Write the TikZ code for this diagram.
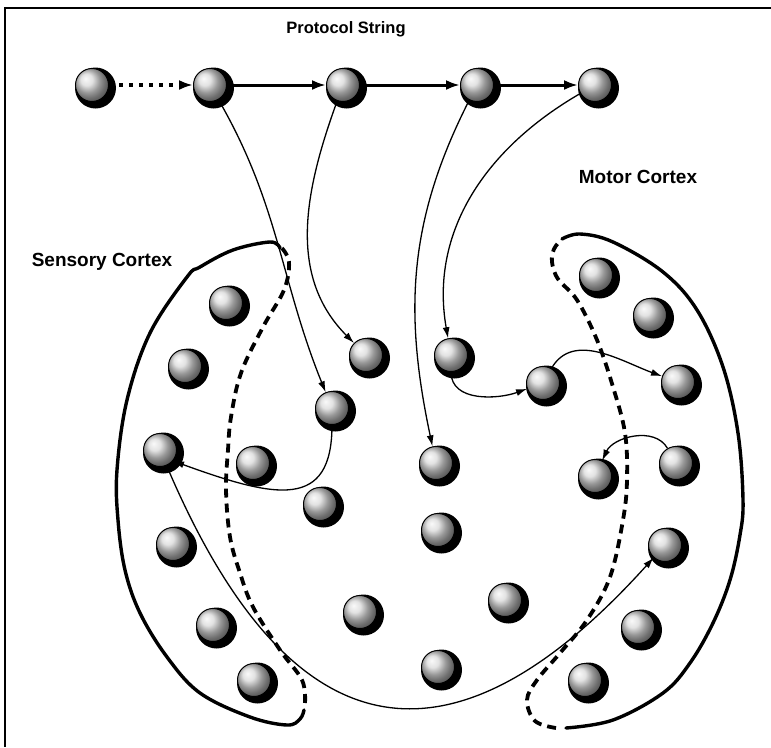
\documentclass[tikz,border=0pt]{standalone}
\usepackage{fontspec}
\setmainfont{Liberation Sans}
\usetikzlibrary{arrows.meta}
\begin{document}
\begin{tikzpicture}[x=1pt,y=1pt,
  ball/.style={circle, inner sep=0pt, minimum size=33pt, draw=black, line width=1pt, shade, ball color=gray!30},
  shadowdisc/.style={fill=black},
  chainarrow/.style={line width=3pt, -{Latex[length=14pt,width=10pt]}},
  dotarrow/.style={line width=4pt, dash pattern=on 4pt off 6pt, -{Latex[length=14pt,width=10pt]}},
  conn/.style={line width=1.3pt, -{Latex[length=11pt,width=7pt]}},
  rim/.style={line width=3.4pt, line cap=round},
  rimdash/.style={line width=3.8pt, dash pattern=on 9pt off 6pt},
  lbl/.style={font=\bfseries\fontsize{19}{22}\selectfont, inner sep=0pt}
]
\useasboundingbox (0,0) rectangle (771,-747);
\draw[line width=1.6pt] (771,-8) -- (5,-8) -- (5,-747);

% labels
\node[lbl, font=\bfseries\fontsize{16.5}{19}\selectfont] (ps) at (346,-29) {Protocol String};
\node[lbl] (sc) at (102,-262) {Sensory Cortex};
\node[lbl] (mc) at (638,-177) {Motor Cortex};

% cortex boundaries
\draw[rim] plot[smooth, tension=0.6] coordinates {(280,-248) (270,-242) (233,-250) (200,-267) (187,-277) (150,-333) (127,-400) (117,-470) (118,-520) (125,-570) (140,-613) (167,-657) (200,-693) (250,-717) (287,-725) (300,-719) (304,-710)};
\draw[rimdash] plot[smooth, tension=0.6] coordinates {(305,-703) (302,-680) (280,-650) (253,-607) (240,-573) (230,-537) (226,-490) (228,-450) (231,-417) (241,-373) (263,-327) (284,-290) (289,-262) (281,-247)};
\draw[rim] plot[smooth, tension=0.6] coordinates {(562,-239) (580,-234) (613,-242) (663,-272) (697,-310) (723,-367) (738,-433) (743,-500) (740,-535) (730,-580) (713,-623) (690,-663) (663,-693) (613,-720) (566,-728)};
\draw[rimdash] plot[smooth, tension=0.6] coordinates {(556,-728) (535,-721) (527,-700) (537,-680) (560,-653) (587,-620) (610,-577) (623,-520) (627,-480) (625,-433) (613,-387) (597,-340) (577,-300) (558,-279) (552,-262) (554,-249) (561,-240)};

% neurons
\foreach \n/\x/\y in {t1/92/85, t2/210/85, t3/343/85, t4/477/85, t5/595/85,
  s1/226/303, s2/185/366, s3/160/450, s4/253/463, s5/332/408, s6/366/355, s7/320/504,
  s8/173/544, s9/213/625, s10/254/680, s11/360/612,
  m1/451/355, m2/543/383, c1/436/463, c2/438/530, c3/505/600, c4/438/667,
  r1/596/275, r2/650/315, r3/678/382, r4/676/463, r5/595/476, r6/665/545, r7/638/627, r8/585/680} {
  \fill[shadowdisc] (\x+3.5,-\y-3) circle (20.5);
  \node[ball] (\n) at (\x,-\y) {};
}

% protocol string chain
\draw[dotarrow] (t1) -- (t2);
\draw[chainarrow] (t2) -- (t3);
\draw[chainarrow] (t3) -- (t4);
\draw[chainarrow] (t4) -- (t5);

% connectors
\draw[conn] (t2) to[out=-60,in=112] (s5);
\draw[conn] (t3) to[out=-110,in=135] (s6);
\draw[conn] (t4) to[out=-117,in=102] (c1);
\draw[conn] (t5) to[out=-150,in=100] (m1);
\draw[conn] (m1) to[out=-90,in=200] (m2);
\draw[conn] (m2) to[out=60,in=160] (r3);
\draw[conn] (r4) to[out=120,in=65] (r5);
\draw[conn] (s5.-90) to[out=-90,in=-20,out distance=85pt,in distance=110pt] (s3.-40);
\draw[conn] (s3) to[out=-67,in=-132,out distance=250pt,in distance=360pt] (r6);
\end{tikzpicture}
\end{document}
